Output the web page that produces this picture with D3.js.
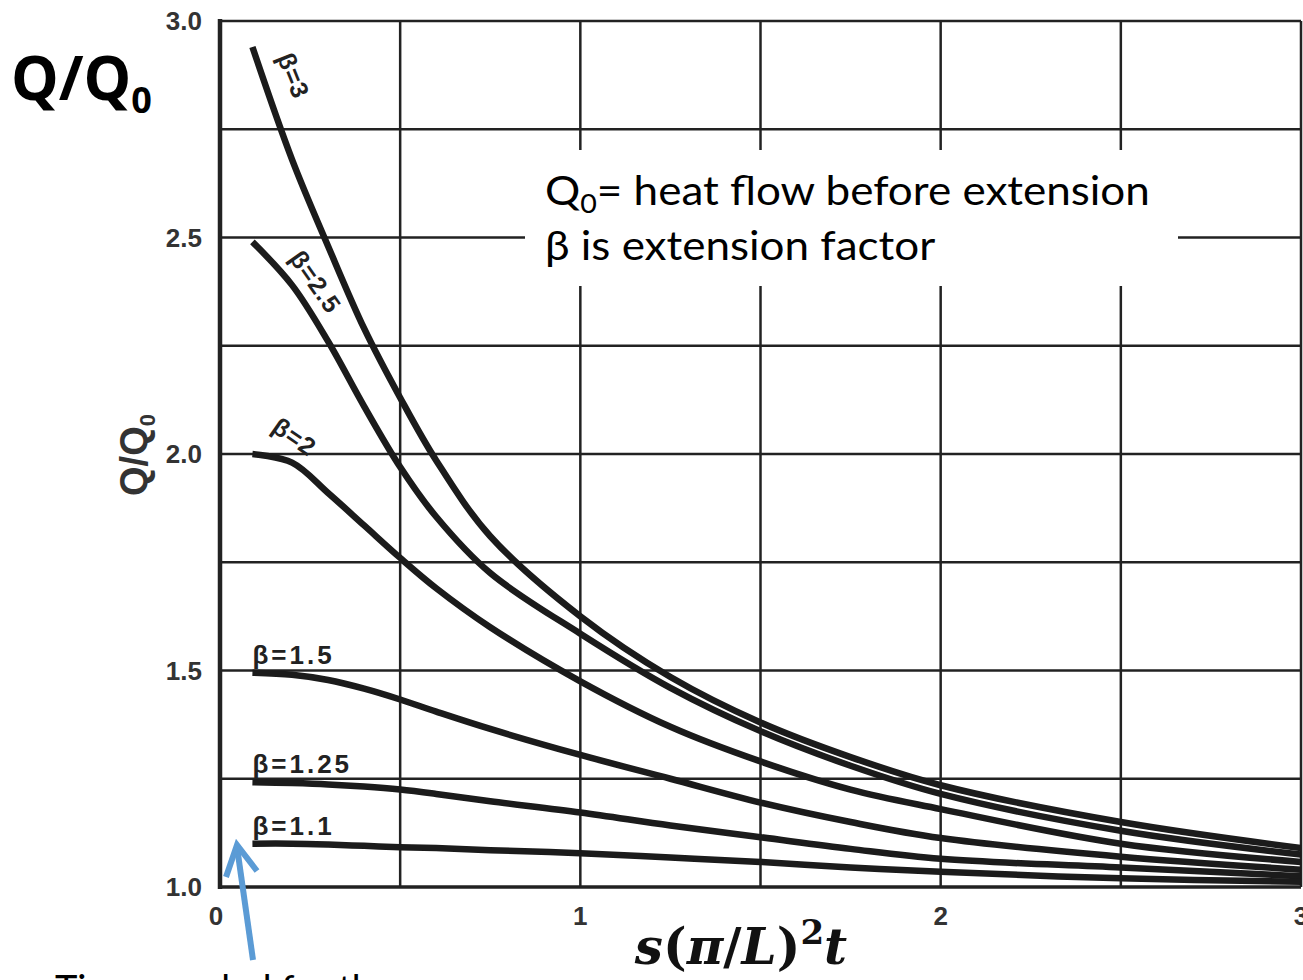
<!DOCTYPE html>
<html>
<head>
<meta charset="utf-8">
<script src="https://cdn.jsdelivr.net/npm/d3@7"></script>
<style>
html, body { margin: 0; padding: 0; background: #fff; overflow: hidden; }
svg { display: block; }
</style>
</head>
<body>
<svg id="chart"></svg>
<script>
const width = 1303, height = 980;

// x positions shared by every curve, s(pi/L)^2 t
const xVals = [0.09, 0.2, 0.3, 0.4, 0.5, 0.6, 0.75, 1.0, 1.25, 1.5, 1.75, 2.0, 2.5, 3.0];

// Q/Q0, one array per beta
const beta3   = [2.94, 2.68, 2.48, 2.29, 2.13, 1.985, 1.81, 1.625, 1.485, 1.38, 1.30, 1.235, 1.15, 1.09];
const beta25  = [2.49, 2.39, 2.26, 2.11, 1.97, 1.855, 1.725, 1.585, 1.46, 1.36, 1.28, 1.215, 1.13, 1.075];
const beta2   = [2.00, 1.98, 1.91, 1.835, 1.76, 1.69, 1.60, 1.475, 1.37, 1.29, 1.225, 1.18, 1.10, 1.058];
const beta15  = [1.495, 1.49, 1.478, 1.458, 1.433, 1.405, 1.365, 1.305, 1.25, 1.195, 1.15, 1.113, 1.07, 1.04];
const beta125 = [1.242, 1.24, 1.237, 1.232, 1.225, 1.215, 1.198, 1.172, 1.142, 1.115, 1.088, 1.065, 1.045, 1.025];
const beta11  = [1.10, 1.10, 1.098, 1.095, 1.092, 1.09, 1.085, 1.078, 1.068, 1.058, 1.045, 1.035, 1.02, 1.012];

const betaNames = ["β=3", "β=2.5", "β=2", "β=1.5", "β=1.25", "β=1.1"];
const xTicks = [0, 1, 2, 3];
const yTicks = [1.0, 1.5, 2.0, 2.5, 3.0];

const svg = d3.select("#chart")
    .attr("width", width)
    .attr("height", height)
    .style("background", "#fff");

const x = d3.scaleLinear().domain([0, 3]).range([220, 1301]);
const y = d3.scaleLinear().domain([1, 3]).range([887, 21]);

const ink = "#222";

// grid
const grid = svg.append("g");
grid.selectAll(".vgrid")
    .data(d3.range(0.5, 3.01, 0.5))
    .enter().append("line")
    .attr("x1", d => x(d)).attr("x2", d => x(d))
    .attr("y1", y(3)).attr("y2", y(1))
    .attr("stroke", ink).attr("stroke-width", 2.5);
grid.selectAll(".hgrid")
    .data(d3.range(1.25, 3.01, 0.25))
    .enter().append("line")
    .attr("x1", x(0)).attr("x2", x(3))
    .attr("y1", d => y(d)).attr("y2", d => y(d))
    .attr("stroke", ink).attr("stroke-width", 2.5);

// axes frame
svg.append("line")
    .attr("x1", x(0)).attr("x2", x(0)).attr("y1", y(3) - 2).attr("y2", y(1) + 2)
    .attr("stroke", ink).attr("stroke-width", 4.5);
svg.append("line")
    .attr("x1", x(0)).attr("x2", x(3)).attr("y1", y(1)).attr("y2", y(1))
    .attr("stroke", ink).attr("stroke-width", 3.5);

// tick labels
svg.selectAll(".ytick")
    .data(yTicks)
    .enter().append("text")
    .attr("x", x(0) - 18)
    .attr("y", d => y(d) + 9)
    .attr("text-anchor", "end")
    .attr("font-family", "Liberation Sans, Arial, sans-serif")
    .attr("font-weight", "bold")
    .attr("font-size", 26)
    .attr("fill", "#333")
    .text(d => d.toFixed(1));

svg.selectAll(".xtick")
    .data(xTicks)
    .enter().append("text")
    .attr("x", d => x(d) - (d === 0 ? 4 : 0))
    .attr("y", y(1) + 38)
    .attr("text-anchor", "middle")
    .attr("font-family", "Liberation Sans, Arial, sans-serif")
    .attr("font-weight", "bold")
    .attr("font-size", 26)
    .attr("fill", "#333")
    .text(d => d);

// curves
const series = [beta3, beta25, beta2, beta15, beta125, beta11];
const line = d3.line()
    .x((d, i) => x(xVals[i]))
    .y(d => y(d))
    .curve(d3.curveCatmullRom.alpha(0.5));

svg.append("defs").append("clipPath").attr("id", "plot-clip")
    .append("rect")
    .attr("x", x(0)).attr("y", y(3))
    .attr("width", x(3) - x(0)).attr("height", y(1) - y(3));

svg.append("g")
    .attr("clip-path", "url(#plot-clip)")
    .selectAll(".curve")
    .data(series)
    .enter().append("path")
    .attr("class", "curve")
    .attr("d", line)
    .attr("fill", "none")
    .attr("stroke", "#1b1b1b")
    .attr("stroke-width", 6.5);

// curve labels: angled ones follow their lines near the start
const labelFont = "Liberation Sans, Arial, sans-serif";
const angled = [
    {name: betaNames[0], px: x(xVals[0]) + 33, py: y(beta3[0]) + 32, rot: 68},
    {name: betaNames[1], px: x(xVals[0]) + 56, py: y(beta25[0]) + 45, rot: 55},
    {name: betaNames[2], px: x(xVals[0]) + 37, py: y(beta2[0]) - 10, rot: 35}
];
angled.forEach(l => {
    svg.append("text")
        .attr("transform", `translate(${l.px},${l.py}) rotate(${l.rot})`)
        .attr("text-anchor", "middle")
        .attr("font-family", labelFont)
        .attr("font-weight", "bold")
        .attr("font-size", 25)
        .attr("letter-spacing", 1)
        .attr("fill", ink)
        .text(l.name);
});

const flat = [
    {name: betaNames[3], val: beta15[0]},
    {name: betaNames[4], val: beta125[0]},
    {name: betaNames[5], val: beta11[0]}
];
flat.forEach(l => {
    svg.append("text")
        .attr("x", x(xVals[0]))
        .attr("y", y(l.val) - 9)
        .attr("font-family", labelFont)
        .attr("font-weight", "bold")
        .attr("font-size", 26)
        .attr("letter-spacing", 3)
        .attr("fill", ink)
        .text(l.name);
});

// rotated axis label from the scan
const yLab = svg.append("text")
    .attr("transform", `translate(147, 455) rotate(-90)`)
    .attr("text-anchor", "middle")
    .attr("font-family", labelFont)
    .attr("font-weight", "bold")
    .attr("font-size", 38)
    .attr("fill", "#333");
yLab.append("tspan").text("Q/Q");
yLab.append("tspan").attr("font-size", 22).attr("dy", 8).text("0");

// big title top-left
const title = svg.append("text")
    .attr("x", 11).attr("y", 100)
    .attr("font-family", "Open Sans, sans-serif")
    .attr("font-weight", "bold")
    .attr("font-size", 60)
    .attr("fill", "#000");
title.append("tspan").text("Q/Q");
title.append("tspan").attr("font-size", 36).attr("dy", 13).text("0");

// note box
svg.append("rect")
    .attr("x", 525).attr("y", 150)
    .attr("width", 653).attr("height", 136)
    .attr("fill", "#fff");

const noteFont = "Lato, 'Open Sans', sans-serif";
const note1 = svg.append("text")
    .attr("x", 545).attr("y", 205)
    .attr("font-family", noteFont)
    .attr("font-size", 40)
    .attr("fill", "#000");
note1.append("tspan").text("Q");
note1.append("tspan").attr("font-size", 26).attr("dy", 8).text("0");
note1.append("tspan").attr("dy", -8).text("= heat flow before extension");

const note2 = svg.append("text")
    .attr("x", 545).attr("y", 260)
    .attr("font-family", noteFont)
    .attr("font-size", 40)
    .attr("fill", "#000")
    .text("β is extension factor");

// scale note text so line 1 spans the same width as the original
const w1 = note1.node().getComputedTextLength();
const k = 605 / w1;
note1.attr("transform", `translate(545,205) scale(${k},1) translate(-545,-205)`);
note2.attr("transform", `translate(545,260) scale(${k},1) translate(-545,-260)`);

// x-axis expression
svg.append("rect")
    .attr("x", 612).attr("y", 905)
    .attr("width", 250).attr("height", 75)
    .attr("fill", "#fff");
const xLab = svg.append("text")
    .attr("x", 741).attr("y", 964)
    .attr("text-anchor", "middle")
    .attr("font-family", "DejaVu Serif, serif")
    .attr("font-weight", "bold")
    .attr("font-size", 50)
    .attr("fill", "#111");
xLab.append("tspan").attr("font-style", "italic").text("s");
xLab.append("tspan").text("(");
xLab.append("tspan").attr("font-style", "italic").text("π");
xLab.append("tspan").text("/");
xLab.append("tspan").attr("font-style", "italic").text("L");
xLab.append("tspan").text(")");
xLab.append("tspan").attr("font-size", 34).attr("dy", -20).text("2");
xLab.append("tspan").attr("font-style", "italic").attr("dy", 20).text("t");

// blue arrow pointing at the curve starts
const arrow = svg.append("g")
    .attr("stroke", "#5b9bd5")
    .attr("stroke-width", 6)
    .attr("fill", "none");
arrow.append("line")
    .attr("x1", 253).attr("y1", 960)
    .attr("x2", 237).attr("y2", 847);
arrow.append("polyline")
    .attr("points", "226,877 237,845 257,871")
    .attr("stroke-linejoin", "miter");

// caption cut off at the bottom edge
svg.append("text")
    .attr("x", 55).attr("y", 1003)
    .attr("font-family", noteFont)
    .attr("font-size", 38)
    .attr("fill", "#000")
    .text("Time needed for the");
</script>
</body>
</html>
